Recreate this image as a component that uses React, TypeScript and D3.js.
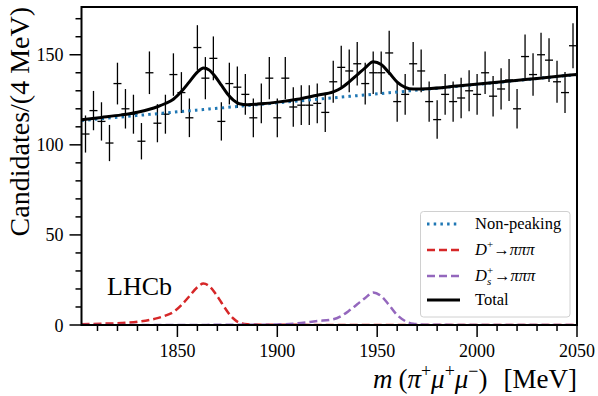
import React from "react";
import * as d3 from "d3";

// binned data, 4 MeV bins starting at 1802
const binCentres = d3.range(1804, 2050, 4);
const candidates = [
  106, 119, 113, 101, 134, 120, 117, 102, 140, 112, 117, 139, 129, 115, 154, 137,
  148, 113, 134, 132, 128, 115, 123, 137, 115, 137, 121, 122, 122, 123, 118, 135,
  143, 141, 145, 134, 140, 140, 151, 124, 128, 145, 141, 124, 114, 128, 124, 126,
  130, 128, 140, 127, 131, 136, 120, 149, 139, 150, 147, 135, 129, 155,
];

// fit components
const massGrid = [
  1802, 1812, 1822, 1830, 1836, 1840, 1844, 1848, 1852, 1856, 1860, 1863, 1866,
  1869, 1872, 1875, 1878, 1881, 1885, 1892, 1900, 1910, 1920, 1928, 1932, 1936,
  1940, 1944, 1948, 1952, 1956, 1960, 1964, 1968, 1975, 1990, 2010, 2030, 2050,
];
const nonPeaking = [
  113.5, 114.5, 115.5, 116.3, 116.9, 117.3, 117.7, 118.1, 118.5, 118.9, 119.3,
  119.6, 119.9, 120.2, 120.5, 120.8, 121.1, 121.4, 121.8, 122.5, 123.3, 124.3,
  125.3, 126.1, 126.5, 126.9, 127.3, 127.7, 128.1, 128.5, 128.9, 129.3, 129.7,
  130.2, 130.9, 132.5, 134.6, 136.8, 139.0,
];
const dPlus = [
  0.4, 0.7, 1.1, 1.8, 2.8, 3.8, 5.2, 7.2, 11, 16, 21, 23, 21.5, 17.5, 12.5, 7.5,
  3.6, 1.3, 0.4, 0.15, 0.1, 0.08, 0.06, 0.05, 0.05, 0.05, 0.05, 0.05, 0.05, 0.05,
  0.05, 0.05, 0.05, 0.05, 0.05, 0.05, 0.05, 0.05, 0.05,
];
const dsPlus = [
  0.02, 0.02, 0.02, 0.03, 0.03, 0.03, 0.04, 0.04, 0.05, 0.05, 0.06, 0.06, 0.07,
  0.07, 0.08, 0.08, 0.09, 0.1, 0.1, 0.15, 0.3, 0.9, 2.2, 3.2, 5, 8, 11.5, 15, 18,
  16, 11, 5.5, 2.2, 0.7, 0.2, 0.05, 0.03, 0.02, 0.02,
];

const xMajor = [1850, 1900, 1950, 2000, 2050];
const xMinor = d3.range(1810, 2050, 10).filter((v) => v % 50 !== 0);
const yMajor = [0, 50, 100, 150];
const yMinor = d3.range(10, 180, 10).filter((v) => v % 50 !== 0);

const serif = "'Liberation Serif', 'DejaVu Serif', 'Times New Roman', serif";

const App = () => {
  const width = 598;
  const height = 396;
  const plot = { left: 81.5, right: 577, top: 7, bottom: 325 };

  const x = d3.scaleLinear().domain([1802, 2050]).range([plot.left, plot.right]);
  const y = d3.scaleLinear().domain([0, 176.5]).range([plot.bottom, plot.top]);

  const line = d3
    .line<[number, number]>()
    .x((d) => x(d[0]))
    .y((d) => y(d[1]))
    .curve(d3.curveMonotoneX);

  const bkgPath = line(massGrid.map((m, i) => [m, nonPeaking[i]]));
  const dpPath = line(massGrid.map((m, i) => [m, dPlus[i]]));
  const dsPath = line(massGrid.map((m, i) => [m, dsPlus[i]]));
  const totalPath = line(
    massGrid.map((m, i) => [m, nonPeaking[i] + dPlus[i] + dsPlus[i]])
  );

  const legend = { x: 420.5, y: 211.5, w: 149.5, h: 105.5 };
  const rowY = [224, 250, 276, 300];

  return (
    <svg
      width={width}
      height={height}
      style={{
        position: "absolute",
        left: 0,
        top: 0,
        background: "white",
        fontFamily: serif,
      }}
    >
      <defs>
        <clipPath id="plot-clip">
          <rect
            x={plot.left}
            y={plot.top}
            width={plot.right - plot.left}
            height={plot.bottom - plot.top}
          />
        </clipPath>
      </defs>

      {/* data points with poisson errors */}
      <g stroke="black" strokeWidth={1.3}>
        {binCentres.map((m, i) => {
          const n = candidates[i];
          const e = Math.sqrt(n);
          return (
            <g key={m}>
              <line x1={x(m)} x2={x(m)} y1={y(n - e)} y2={y(n + e)} />
              <line x1={x(m - 2)} x2={x(m + 2)} y1={y(n)} y2={y(n)} />
            </g>
          );
        })}
      </g>

      <g clipPath="url(#plot-clip)" fill="none">
        <path d={bkgPath} stroke="#1f77b4" strokeWidth={3} strokeDasharray="2.5,4.2" />
        <path d={dpPath} stroke="#d62728" strokeWidth={2.5} strokeDasharray="8,4" />
        <path d={dsPath} stroke="#9467bd" strokeWidth={2.5} strokeDasharray="8,4" />
        <path d={totalPath} stroke="black" strokeWidth={3} />
      </g>

      {/* spines */}
      <rect
        x={plot.left}
        y={plot.top}
        width={plot.right - plot.left}
        height={plot.bottom - plot.top}
        fill="none"
        stroke="black"
        strokeWidth={2}
      />

      {/* ticks */}
      <g stroke="black" strokeWidth={1.5}>
        {xMajor.map((v) => (
          <line key={v} x1={x(v)} x2={x(v)} y1={plot.bottom} y2={plot.bottom + 12} />
        ))}
        {xMinor.map((v) => (
          <line key={v} x1={x(v)} x2={x(v)} y1={plot.bottom} y2={plot.bottom + 6} />
        ))}
        {yMajor.map((v) => (
          <line key={v} x1={plot.left - 12} x2={plot.left} y1={y(v)} y2={y(v)} />
        ))}
        {yMinor.map((v) => (
          <line key={v} x1={plot.left - 6} x2={plot.left} y1={y(v)} y2={y(v)} />
        ))}
      </g>
      <g style={{ fontFamily: serif, fontSize: 18 }} fill="black">
        {xMajor.map((v) => (
          <text key={v} x={x(v)} y={plot.bottom + 32} textAnchor="middle">
            {v}
          </text>
        ))}
        {yMajor.map((v) => (
          <text key={v} x={plot.left - 18} y={y(v) + 6.5} textAnchor="end">
            {v}
          </text>
        ))}
      </g>

      {/* axis titles */}
      <text
        x={plot.right}
        y={388}
        textAnchor="end"
        style={{ fontFamily: serif, fontSize: 27 }}
      >
        <tspan fontStyle="italic">m</tspan>
        <tspan dx={6}>(</tspan>
        <tspan fontStyle="italic">π</tspan>
        <tspan fontSize={18} dy={-11}>+</tspan>
        <tspan fontStyle="italic" dy={11}>μ</tspan>
        <tspan fontSize={18} dy={-11}>+</tspan>
        <tspan fontStyle="italic" dy={11}>μ</tspan>
        <tspan fontSize={18} dy={-11}>−</tspan>
        <tspan dy={11}>)</tspan>
        <tspan dx={16}>[MeV]</tspan>
      </text>
      <text
        transform={`translate(29, ${plot.top}) rotate(-90)`}
        textAnchor="end"
        style={{ fontFamily: serif, fontSize: 28 }}
      >
        Candidates/(4 MeV)
      </text>

      <text x={107} y={295} style={{ fontFamily: serif, fontSize: 26 }}>
        LHCb
      </text>

      {/* legend */}
      <rect
        x={legend.x}
        y={legend.y}
        width={legend.w}
        height={legend.h}
        rx={3}
        fill="white"
        fillOpacity={0.8}
        stroke="#d0d0d0"
        strokeWidth={1}
      />
      <g fill="none">
        <line x1={427} x2={460} y1={rowY[0]} y2={rowY[0]} stroke="#1f77b4" strokeWidth={3} strokeDasharray="2.5,4.2" />
        <line x1={427} x2={460} y1={rowY[1]} y2={rowY[1]} stroke="#d62728" strokeWidth={2.5} strokeDasharray="8,4" />
        <line x1={427} x2={460} y1={rowY[2]} y2={rowY[2]} stroke="#9467bd" strokeWidth={2.5} strokeDasharray="8,4" />
        <line x1={427} x2={460} y1={rowY[3]} y2={rowY[3]} stroke="black" strokeWidth={3} />
      </g>
      <g style={{ fontFamily: serif, fontSize: 16.5 }} fill="black">
        <text x={475} y={rowY[0] + 5}>Non-peaking</text>
        <text x={475} y={rowY[1] + 5}>
          <tspan fontStyle="italic">D</tspan>
          <tspan fontSize={11} dy={-7}>+</tspan>
          <tspan dy={7}>→</tspan>
          <tspan fontStyle="italic">πππ</tspan>
        </text>
        <text x={475} y={rowY[2] + 5} fontStyle="italic">D</text>
        <text x={487} y={rowY[2] - 2} fontSize={11}>+</text>
        <text x={487} y={rowY[2] + 9} fontSize={11} fontStyle="italic">s</text>
        <text x={494} y={rowY[2] + 5}>
          →<tspan fontStyle="italic">πππ</tspan>
        </text>
        <text x={475} y={rowY[3] + 5}>Total</text>
      </g>
    </svg>
  );
};

export default App;
